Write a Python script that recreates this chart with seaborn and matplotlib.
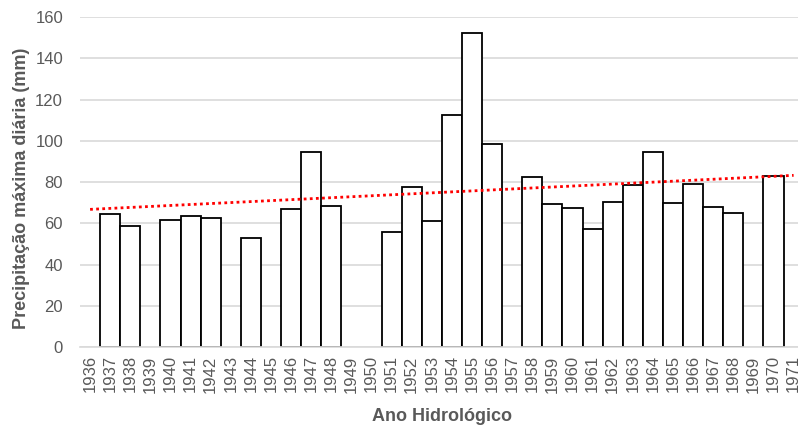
import matplotlib
matplotlib.use("Agg")
import matplotlib.pyplot as plt
import numpy as np
import pandas as pd
import seaborn as sns

# hydrological years on the category axis (some years have no record)
years = list(range(1936, 1972))
rec_years = [1937, 1938, 1940, 1941, 1942, 1944, 1946, 1947, 1948,
             1951, 1952, 1953, 1954, 1955, 1956,
             1958, 1959, 1960, 1961, 1962, 1963, 1964, 1965, 1966, 1967, 1968,
             1970]
max_daily_precip = [64.7, 58.7, 61.5, 63.6, 62.4, 52.7, 66.8, 94.5, 68.4,
                    55.8, 77.4, 61.2, 112.6, 152.2, 98.4,
                    82.2, 69.2, 67.2, 57.3, 70.4, 78.5, 94.7, 69.9, 79.0, 68.1, 65.1,
                    82.9]
y_ticks = [0, 20, 40, 60, 80, 100, 120, 140, 160]

GREY_TXT = "#595959"
GREY_LINE = "#d9d9d9"

df = pd.DataFrame({"ano": [str(y) for y in rec_years], "prec": max_daily_precip})

sns.set_style("white")
plt.rcParams["font.family"] = ["Liberation Sans", "DejaVu Sans"]

fig = plt.figure(figsize=(7.98, 4.26), dpi=100)
# plot area runs a little past the right edge, as in the source image
ax = fig.add_axes([0.1003, 0.1854, 0.9068, 0.7746])

sns.barplot(data=df, x="ano", y="prec", order=[str(y) for y in years],
            color="white", edgecolor="black", linewidth=1.3, width=1.0,
            errorbar=None, ax=ax, zorder=2)

# linear trend line (least squares on recorded years)
coef = np.polyfit(rec_years, max_daily_precip, 1)
pos = np.arange(len(years))
ax.plot(pos, np.polyval(coef, np.array(years)), color="#ff0000",
        linestyle=(0, (1, 1.2)), linewidth=2, zorder=3)

ax.set_xlim(-0.5, len(years) - 0.5)
ax.set_ylim(0, 160)
ax.set_yticks(y_ticks)
ax.yaxis.grid(True, color=GREY_LINE, linewidth=1.2, zorder=0)
ax.set_axisbelow(True)

for s in ["top", "right", "left"]:
    ax.spines[s].set_visible(False)
ax.spines["bottom"].set_color(GREY_LINE)
ax.spines["bottom"].set_linewidth(1.2)

ax.tick_params(axis="x", length=0, labelsize=12, labelcolor=GREY_TXT,
               rotation=90, pad=6)
ax.tick_params(axis="y", length=0, labelsize=12, labelcolor=GREY_TXT, pad=12.2)

ax.set_xlabel("Ano Hidrológico", fontsize=13, fontweight="bold",
              color=GREY_TXT, labelpad=11)
ax.set_ylabel("Precipitação máxima diária (mm)", fontsize=13,
              fontweight="bold", color=GREY_TXT)
ax.yaxis.set_label_coords(-0.0691, 0.482)

fig.savefig("out.png", dpi=100)
